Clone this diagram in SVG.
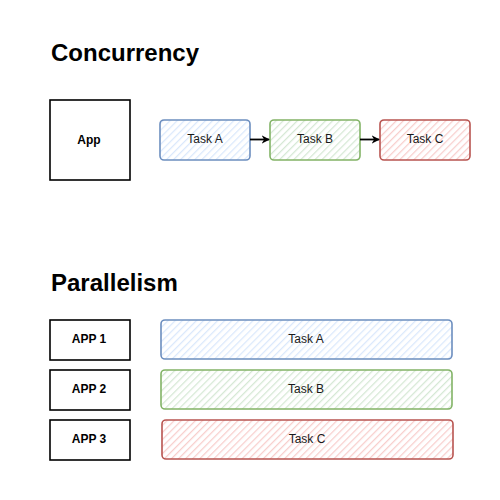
<svg xmlns="http://www.w3.org/2000/svg" width="500" height="500" viewBox="0 0 500 500">
<defs>
<style>
.title{font-family:"Liberation Sans",Arial,sans-serif;font-weight:bold;font-size:24px;fill:#000}
.app{fill:#fff;stroke:#000;stroke-width:1.6}
.applbl{font-family:"Liberation Sans",Arial,sans-serif;font-weight:bold;font-size:12px;fill:#000;text-anchor:middle;dominant-baseline:central}
.lbl{font-family:"Liberation Sans",Arial,sans-serif;font-size:12px;fill:#1a1a1a;text-anchor:middle;dominant-baseline:central}
.blue{fill:url(#hb);stroke:#6c8ebf;stroke-width:1.6}
.green{fill:url(#hg);stroke:#82b366;stroke-width:1.6}
.red{fill:url(#hr);stroke:#b85450;stroke-width:1.6}
.conn{stroke:#000;stroke-width:1.8;fill:none}
</style>
<pattern id="hb" patternUnits="userSpaceOnUse" width="5" height="5" patternTransform="rotate(45)"><rect width="5" height="5" fill="#fff"/><line x1="0" y1="0" x2="0" y2="5" stroke="#dae8fc" stroke-width="2.5"/></pattern>
<pattern id="hg" patternUnits="userSpaceOnUse" width="5" height="5" patternTransform="rotate(45)"><rect width="5" height="5" fill="#fff"/><line x1="0" y1="0" x2="0" y2="5" stroke="#d5e8d4" stroke-width="2.5"/></pattern>
<pattern id="hr" patternUnits="userSpaceOnUse" width="5" height="5" patternTransform="rotate(45)"><rect width="5" height="5" fill="#fff"/><line x1="0" y1="0" x2="0" y2="5" stroke="#f8cecc" stroke-width="2.5"/></pattern>
<marker id="arr" viewBox="0 0 10 10" refX="9" refY="5" markerWidth="4.5" markerHeight="4.5" orient="auto"><path d="M0,0 L10,5 L0,10 L3,5 z" fill="#000"/></marker>
</defs>
<rect width="500" height="500" fill="#fff"/>
<text class="title" x="51" y="61">Concurrency</text>
<text class="title" x="51" y="291">Parallelism</text>
<g id="app"><rect class="app" x="50" y="100" width="80" height="80"/><text class="applbl" x="89" y="140">App</text></g>
<g id="taskA"><rect class="blue" x="160" y="120" width="90" height="40" rx="4"/><text class="lbl" x="205" y="139">Task A</text></g>
<g id="taskB"><rect class="green" x="270" y="120" width="90" height="40" rx="4"/><text class="lbl" x="315" y="139">Task B</text></g>
<g id="taskC"><rect class="red" x="380" y="120" width="90" height="40" rx="4"/><text class="lbl" x="425" y="139">Task C</text></g>
<g id="connectors">
<line class="conn" x1="250" y1="139.5" x2="269" y2="139.5" marker-end="url(#arr)"/>
<line class="conn" x1="360" y1="139.5" x2="379" y2="139.5" marker-end="url(#arr)"/>
</g>
<g id="app1"><rect class="app" x="50" y="320" width="80" height="40"/><text class="applbl" x="89" y="339">APP 1</text></g>
<g id="app2"><rect class="app" x="50" y="370" width="80" height="40"/><text class="applbl" x="89" y="389">APP 2</text></g>
<g id="app3"><rect class="app" x="50" y="420" width="80" height="40"/><text class="applbl" x="89" y="439">APP 3</text></g>
<g id="ptaskA"><rect class="blue" x="161" y="320" width="291" height="39" rx="4"/><text class="lbl" x="306" y="339">Task A</text></g>
<g id="ptaskB"><rect class="green" x="161" y="370" width="291" height="39" rx="4"/><text class="lbl" x="306" y="389">Task B</text></g>
<g id="ptaskC"><rect class="red" x="162" y="420" width="291" height="39" rx="4"/><text class="lbl" x="307" y="439">Task C</text></g>
</svg>
